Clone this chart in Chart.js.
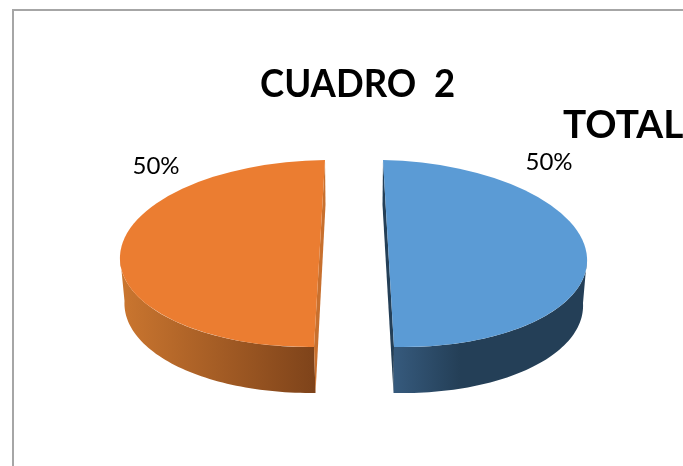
<!DOCTYPE html>
<html>
<head>
<meta charset="utf-8">
<title>CUADRO 2</title>
<script src="https://cdn.jsdelivr.net/npm/chart.js@4"></script>
<style>
    html, body { margin: 0; padding: 0; background: #fff; overflow: hidden; }
    #wrap { position: relative; width: 683px; height: 466px; }
    #frame { position: absolute; left: 12px; top: 9px; right: 0; bottom: 0; border-left: 2px solid #a6a6a6; border-top: 2px solid #a6a6a6; }
    canvas { position: absolute; left: 0; top: 0; }
</style>
</head>
<body>
<div id="wrap">
    <div id="frame"></div>
    <canvas id="pieChart" width="683" height="466"></canvas>
</div>
<script>
// data
const categories = ["1", "2"];
const values = [50, 50];
const sliceColors = ["#5B9BD5", "#EB7D31"];
const chartTitle = "CUADRO  2";
const seriesName = "TOTAL";

// fake 3D: each slice gets its own squashed and tilted placement
const topShapes = [
    { cx: 388.5, cy: 253.5, ax: 198.5, ay: 4, bx: 5.5, by: 93.5 },
    { cx: 319.5, cy: 253.5, ax: 199.5, ay: -2, bx: -5.5, by: 93.5 },
];
const bottomShapes = [
    { cx: 388, cy: 299, ax: 195, ay: 4, bx: 5.5, by: 94 },
    { cx: 320.5, cy: 299, ax: 196, ay: -2, bx: -5, by: 94 },
];
const wallStops = [
    [[0, "#365A7D"], [0.35, "#243F57"], [1, "#243F57"]],
    [[0, "#C9752F"], [1, "#7E431A"]],
];
const cutColors = ["#243F57", "#C8702E"];
const percentSpots = [{ x: 549, y: 162 }, { x: 156, y: 166 }];

function place(shape, angle) {
    const c = Math.cos(angle), s = Math.sin(angle);
    return { x: shape.cx + shape.ax * c + shape.bx * s, y: shape.cy + shape.ay * c + shape.by * s };
}

// side wall and cut face of one slice, then the library's own arc on top
function drawSlice(ctx, arc, i) {
    const top = topShapes[i], bottom = bottomShapes[i];
    const a0 = arc.startAngle, a1 = arc.endAngle;
    const from = Math.max(a0, 0), to = Math.min(a1, Math.PI);
    const pts = [];
    for (let k = 0; k <= 60; k++) pts.push(from + (to - from) * k / 60);

    const leftX = Math.min(place(bottom, from).x, place(bottom, to).x);
    const rightX = Math.max(place(bottom, from).x, place(bottom, to).x);
    const grad = ctx.createLinearGradient(leftX, 0, rightX, 0);
    wallStops[i].forEach(st => grad.addColorStop(st[0], st[1]));

    ctx.beginPath();
    pts.forEach((a, k) => {
        const p = place(top, a);
        if (k === 0) ctx.moveTo(p.x, p.y); else ctx.lineTo(p.x, p.y);
    });
    pts.slice().reverse().forEach(a => {
        const p = place(bottom, a);
        ctx.lineTo(p.x, p.y);
    });
    ctx.closePath();
    ctx.fillStyle = grad;
    ctx.fill();

    // cut face seen as a thin sliver beside the gap
    const back = place(top, -Math.PI / 2), front = place(top, Math.PI / 2);
    const backFoot = place(bottom, -Math.PI / 2), foot = place(bottom, Math.PI / 2);
    ctx.beginPath();
    ctx.moveTo(back.x, back.y);
    ctx.lineTo(backFoot.x, backFoot.y);
    ctx.lineTo(foot.x, foot.y);
    ctx.lineTo(front.x, front.y);
    ctx.closePath();
    ctx.fillStyle = cutColors[i];
    ctx.fill();

    const r = arc.outerRadius;
    ctx.save();
    ctx.translate(top.cx, top.cy);
    ctx.transform(top.ax / r, top.ay / r, top.bx / r, top.by / r, 0, 0);
    ctx.translate(-arc.x, -arc.y);
    arc.draw(ctx);
    ctx.restore();
}

function squeezedText(ctx, text, x, y, scaleX) {
    ctx.save();
    ctx.translate(x, y);
    ctx.scale(scaleX, 1);
    ctx.fillText(text, 0, 0);
    ctx.restore();
}

const tiltedPie = {
    id: "tiltedPie",
    beforeDatasetDraw(chart, args) {
        const ctx = chart.ctx;
        args.meta.data.forEach((arc, i) => drawSlice(ctx, arc, i));
        return false;
    },
    afterDraw(chart) {
        const ctx = chart.ctx;
        const total = values.reduce((a, b) => a + b, 0);
        ctx.save();
        ctx.fillStyle = "#000";
        ctx.textAlign = "left";
        ctx.textBaseline = "alphabetic";
        ctx.font = "bold 38px Lato";
        squeezedText(ctx, chartTitle, 260, 97, 0.96);
        squeezedText(ctx, seriesName, 563, 138, 1.02);
        ctx.textAlign = "center";
        ctx.textBaseline = "middle";
        ctx.font = "24px Lato";
        values.forEach((v, i) => {
            ctx.fillText(Math.round(v / total * 100) + "%", percentSpots[i].x, percentSpots[i].y);
        });
        ctx.restore();
    },
};

new Chart(document.getElementById("pieChart").getContext("2d"), {
    type: "pie",
    data: {
        labels: categories,
        datasets: [{
            data: values,
            backgroundColor: sliceColors,
            borderWidth: 0,
        }],
    },
    options: {
        responsive: false,
        animation: false,
        events: [],
        plugins: {
            legend: { display: false },
            tooltip: { enabled: false },
        },
    },
    plugins: [tiltedPie],
});
</script>
</body>
</html>
